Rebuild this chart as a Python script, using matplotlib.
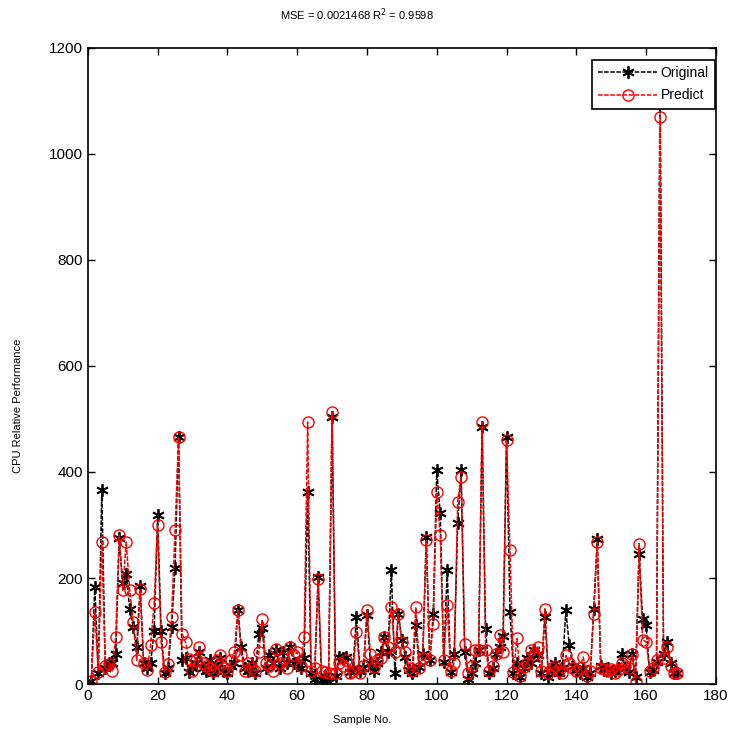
import numpy as np
import matplotlib
matplotlib.use("Agg")
import matplotlib.pyplot as plt

# values (sample index 1..169)
original = [
    6, 184, 20, 366, 30, 40, 40, 57, 275, 190,
    208, 142, 108, 70, 185, 40, 30, 40, 100, 318,
    101, 20, 30, 108, 218, 466, 45, 50, 23, 30,
    40, 60, 30, 25, 45, 20, 30, 50, 25, 20,
    35, 40, 140, 70, 30, 25, 40, 20, 95, 105,
    30, 55, 40, 65, 30, 60, 40, 70, 40, 40,
    30, 50, 362, 20, 10, 202, 7, 15, 4, 504,
    15, 51, 50, 51, 23, 30, 127, 25, 30, 130,
    40, 25, 40, 60, 89, 60, 215, 20, 133, 83,
    51, 26, 20, 111, 32, 57, 278, 45, 133, 403,
    322, 42, 215, 23, 57, 303, 403, 60, 10, 20,
    40, 64, 485, 104, 20, 30, 57, 70, 90, 465,
    136, 20, 40, 13, 30, 50, 40, 65, 55, 20,
    127, 13, 29, 40, 20, 30, 139, 73, 35, 26,
    20, 30, 13, 20, 142, 273, 35, 26, 30, 20,
    25, 30, 57, 30, 23, 57, 13, 246, 123, 111,
    23, 26, 42, 1150, 57, 80, 40, 20, 20,
]
predict = [
    5, 135, 23, 268, 35, 38, 25, 89, 281, 177,
    268, 177, 117, 45, 180, 39, 26, 73, 152, 300,
    79, 23, 38, 127, 290, 466, 95, 79, 48, 25,
    45, 70, 40, 35, 30, 25, 45, 55, 30, 25,
    45, 60, 139, 55, 25, 40, 30, 25, 60, 122,
    40, 35, 25, 67, 40, 50, 30, 70, 55, 60,
    35, 89, 494, 25, 30, 199, 25, 23, 20, 513,
    20, 40, 35, 45, 20, 25, 98, 20, 35, 139,
    57, 32, 45, 50, 89, 70, 145, 60, 133, 80,
    60, 30, 25, 145, 30, 50, 271, 45, 114, 362,
    281, 45, 149, 25, 40, 344, 391, 76, 20, 35,
    64, 64, 494, 64, 25, 35, 57, 92, 60, 460,
    252, 23, 86, 15, 32, 40, 64, 57, 70, 25,
    142, 20, 30, 35, 25, 20, 54, 40, 30, 25,
    30, 51, 15, 25, 133, 268, 30, 28, 25, 29,
    20, 26, 39, 35, 30, 57, 4, 265, 83, 80,
    25, 30, 45, 1070, 50, 70, 35, 20, 20,
]
samples = np.arange(1, len(original) + 1)

xticks = np.arange(0, 181, 20)
yticks = np.arange(0, 1201, 200)

plt.rcParams["font.family"] = ["Liberation Sans", "DejaVu Sans"]

fig = plt.figure(figsize=(7.38, 7.34), dpi=100)
ax = fig.add_axes([0.119, 0.068, 0.851, 0.867])

# MATLAB-style asterisk marker
ax.plot(samples, original, color="black", linestyle=(0, (3, 1)), linewidth=1.1,
        marker=(6, 2, 0), markersize=9, markeredgewidth=1.3, label="Original")
ax.plot(samples, predict, color="red", linestyle=(0, (3, 1)), linewidth=1.1,
        marker="o", markersize=8, markerfacecolor="none", markeredgewidth=1.0,
        label="Predict")

ax.set_xlim(0, 180)
ax.set_ylim(0, 1200)
ax.set_xticks(xticks)
ax.set_yticks(yticks)
ax.tick_params(direction="in", length=5, width=1, top=True, right=True,
               labelsize=11)
for sp in ax.spines.values():
    sp.set_linewidth(1.2)

leg = ax.legend(loc="upper right", bbox_to_anchor=(0.999, 0.981), fontsize=10,
                frameon=True, fancybox=False, edgecolor="black", framealpha=1,
                handlelength=4.2, borderpad=0.45, labelspacing=0.6,
                handletextpad=0.3, borderaxespad=0)
leg.get_frame().set_linewidth(1.2)
leg.set_zorder(10)

fig.text(0.484, 0.98, "MSE = 0.0021468 R$^2$ = 0.9598", ha="center", va="center",
         fontsize=8)
fig.text(0.491, 0.019, "Sample No.", ha="center", va="center", fontsize=8)
fig.text(0.024, 0.447, "CPU Relative Performance", ha="center", va="center",
         rotation=90, fontsize=8)

fig.savefig("out.png", dpi=100)
